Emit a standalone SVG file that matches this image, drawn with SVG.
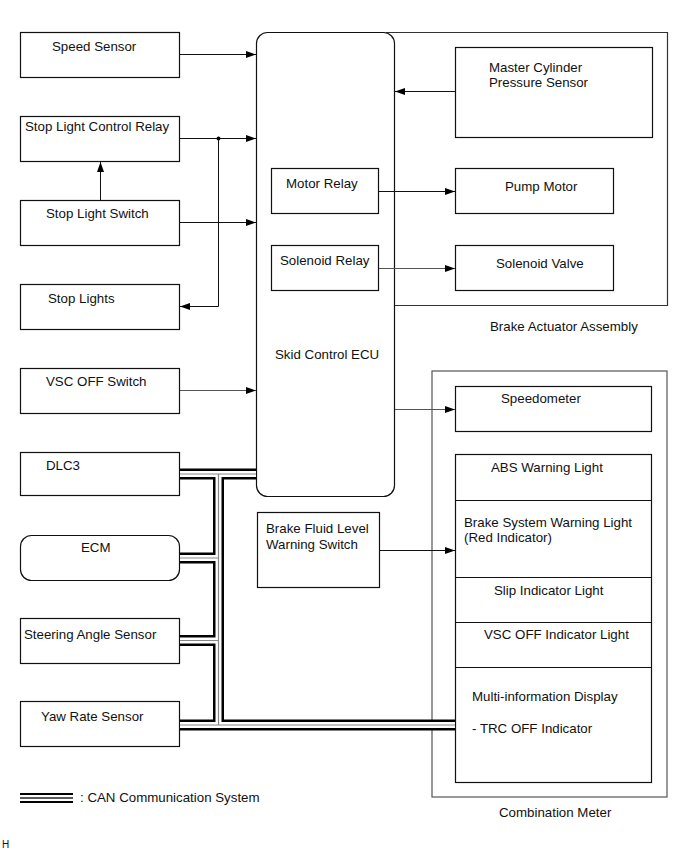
<svg xmlns="http://www.w3.org/2000/svg" width="691" height="854" viewBox="0 0 691 854">
<style>
text{font-family:"Liberation Sans",Arial,sans-serif;font-size:13.3px;fill:#111}
.box{fill:#fff;stroke:#111;stroke-width:1.2}
.frame{fill:none;stroke:#333;stroke-width:1.2}
.ln{fill:none;stroke:#111;stroke-width:1}
.lg{fill:none;stroke:#555;stroke-width:1}
.busA{fill:none;stroke:#000;stroke-width:11}
.busB{fill:none;stroke:#fff;stroke-width:6}
.busC{fill:none;stroke:#888;stroke-width:1.2}
</style>
<defs>
<marker id="ah" markerUnits="userSpaceOnUse" markerWidth="11" markerHeight="8" refX="10" refY="3.5" orient="auto">
<path d="M0,0 L10,3.5 L0,7 z" fill="#000"/>
</marker>
</defs>
<rect width="691" height="854" fill="#fff"/>

<g id="brake-actuator-assembly">
<path class="frame" d="M386,32.5 H667.5 V305.5 H394"/>
<text x="490" y="331">Brake Actuator Assembly</text>
</g>
<g id="combination-meter">
<rect class="frame" x="432" y="371" width="235" height="426" style="stroke:#555"/>
<text x="499" y="817">Combination Meter</text>
</g>

<g id="speed-sensor"><rect class="box" x="20.5" y="32.5" width="159" height="45"/><text x="52" y="51">Speed Sensor</text></g>
<g id="stop-light-control-relay"><rect class="box" x="20.5" y="116.5" width="159" height="45"/><text x="25" y="131">Stop Light Control Relay</text></g>
<g id="stop-light-switch"><rect class="box" x="20.5" y="200.5" width="159" height="45"/><text x="46" y="218">Stop Light Switch</text></g>
<g id="stop-lights"><rect class="box" x="20.5" y="284.5" width="159" height="45"/><text x="48" y="303">Stop Lights</text></g>
<g id="vsc-off-switch"><rect class="box" x="20.5" y="368.5" width="159" height="45"/><text x="46" y="386">VSC OFF Switch</text></g>
<g id="dlc3"><rect class="box" x="20.5" y="452.5" width="159" height="43"/><text x="46" y="470">DLC3</text></g>
<g id="ecm"><rect class="box" x="20.5" y="535.5" width="159" height="45" rx="11"/><text x="81" y="552">ECM</text></g>
<g id="steering-angle-sensor"><rect class="box" x="20.5" y="618.5" width="159" height="45"/><text x="24" y="639">Steering Angle Sensor</text></g>
<g id="yaw-rate-sensor"><rect class="box" x="20.5" y="701.5" width="159" height="45"/><text x="41" y="721">Yaw Rate Sensor</text></g>

<g id="skid-control-ecu">
<rect class="box" x="256.5" y="32.5" width="138" height="464" rx="11"/>
<text x="275" y="359">Skid Control ECU</text>
</g>
<g id="motor-relay"><rect class="box" x="271.5" y="168.5" width="107" height="45"/><text x="286" y="188">Motor Relay</text></g>
<g id="solenoid-relay"><rect class="box" x="271.5" y="245.5" width="107" height="45"/><text x="280" y="265">Solenoid Relay</text></g>

<g id="master-cylinder-pressure-sensor"><rect class="box" x="455.5" y="47.5" width="197" height="90"/><text x="489" y="72">Master Cylinder</text><text x="489" y="87">Pressure Sensor</text></g>
<g id="pump-motor"><rect class="box" x="455.5" y="168.5" width="158" height="45"/><text x="505" y="191">Pump Motor</text></g>
<g id="solenoid-valve"><rect class="box" x="455.5" y="245.5" width="158" height="45"/><text x="496" y="268">Solenoid Valve</text></g>

<g id="brake-fluid-level-warning-switch"><rect class="box" x="257.5" y="512.5" width="122" height="75"/><text x="266" y="533">Brake Fluid Level</text><text x="266" y="549">Warning Switch</text></g>

<g id="speedometer"><rect class="box" x="455.5" y="386.5" width="196" height="45"/><text x="501" y="403">Speedometer</text></g>
<g id="meter-indicators">
<rect class="box" x="455.5" y="454.5" width="196" height="328"/>
<path class="ln" d="M455.5,500.5 H651.5 M455.5,577.5 H651.5 M455.5,622.5 H651.5 M455.5,667.5 H651.5"/>
<text x="491" y="472">ABS Warning Light</text>
<text x="464" y="527">Brake System Warning Light</text>
<text x="464" y="542">(Red Indicator)</text>
<text x="494" y="595">Slip Indicator Light</text>
<text x="484" y="639">VSC OFF Indicator Light</text>
<text x="472" y="701">Multi-information Display</text>
<text x="472" y="733">- TRC OFF Indicator</text>
</g>

<g id="connectors">
<path class="ln" d="M180,54.5 H256" marker-end="url(#ah)"/>
<path class="ln" d="M180,138.5 H256" marker-end="url(#ah)"/>
<circle cx="218.5" cy="138.5" r="2" fill="#000"/>
<path class="ln" d="M218.5,138.5 V306.5 H180" marker-end="url(#ah)"/>
<path class="ln" d="M180,222.5 H256" marker-end="url(#ah)"/>
<path class="ln" d="M100.5,200 V162" marker-end="url(#ah)"/>
<path class="lg" d="M180,390.5 H256" marker-end="url(#ah)"/>
<path class="ln" d="M455,91.5 H395" marker-end="url(#ah)"/>
<path class="ln" d="M379,191.5 H455" marker-end="url(#ah)"/>
<path class="lg" d="M379,268.5 H455" marker-end="url(#ah)"/>
<path class="lg" d="M395,409.5 H455" marker-end="url(#ah)"/>
<path class="ln" d="M380,550.5 H455" marker-end="url(#ah)"/>
</g>

<g id="can-bus">
<g class="busA">
<path d="M180,474 H256"/><path d="M218.5,474 V725"/><path d="M180,558 H218.5"/><path d="M180,640.5 H218.5"/><path d="M180,725 H455"/>
</g>
<g class="busB">
<path d="M180,474 H256"/><path d="M218.5,474 V725"/><path d="M180,558 H218.5"/><path d="M180,640.5 H218.5"/><path d="M180,725 H455"/>
</g>
<g class="busC">
<path d="M180,474 H256"/><path d="M218.5,474 V725"/><path d="M180,558 H218.5"/><path d="M180,640.5 H218.5"/><path d="M180,725 H455"/>
</g>
</g>

<g id="legend">
<path d="M20,794 H73" stroke="#000" stroke-width="2.2"/>
<path d="M20,798 H73" stroke="#222" stroke-width="1.6"/>
<path d="M20,802 H73" stroke="#000" stroke-width="2.2"/>
<text x="80" y="802">: CAN Communication System</text>
</g>
<text x="2" y="848" style="font-size:10px">H</text>
</svg>
